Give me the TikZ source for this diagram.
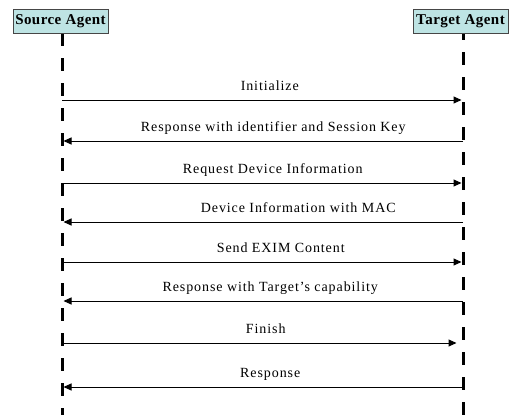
\documentclass[tikz,border=0pt]{standalone}
\usepackage{fontspec}
\setmainfont{Liberation Serif}
\usetikzlibrary{arrows.meta}
\definecolor{hdrfill}{RGB}{190,228,228}
\definecolor{hdrdraw}{RGB}{70,70,70}
\begin{document}
\begin{tikzpicture}[x=1pt,y=-1pt,
  hdr/.style={draw=hdrdraw, line width=1pt, fill=hdrfill, minimum width=95pt,
    minimum height=24pt, inner sep=0pt, font=\fontsize{15}{16}\selectfont\bfseries\addfontfeature{LetterSpace=3}},
  life/.style={line width=3pt, dash pattern=on 13pt off 12pt},
  msg/.style={line width=1pt, -{Triangle[length=8pt,width=7pt]}},
  lbl/.style={anchor=base, yshift=10pt, font=\fontsize{14}{16}\selectfont\addfontfeature{LetterSpace=6.5}}]
\useasboundingbox (0,0) rectangle (515,415);
\fill[white] (0,0) rectangle (515,415);
% lifelines
\coordinate (s0) at (62,33);
\coordinate (s9) at (62,415);
\coordinate (t0) at (463,33);
\coordinate (t9) at (463,415);
\draw[life] (s0) -- (s9);
\draw[life, dash phase=6pt] (t0) -- (t9);
% headers
\node[hdr] (src) at (60.5,21) {Source Agent};
\node[hdr] (tgt) at (460.5,21) {Target Agent};
% message end points
\foreach \n/\y in {1/100,2/141,3/183,4/222,5/262,6/301,7/343,8/387}{
  \coordinate (sa\n) at (62,\y);
  \coordinate (sb\n) at (63.5,\y);
  \coordinate (ta\n) at (463,\y);
  \coordinate (tb\n) at (461.5,\y);
}
\draw[msg] (sa1) -- node[lbl, xshift=8pt] {Initialize} (tb1);
\draw[msg] (ta2) -- node[lbl, xshift=10pt] {Response with identifier and Session Key} (sb2);
\draw[msg] (sa3) -- node[lbl, xshift=11pt] {Request Device Information} (tb3);
\draw[msg] (ta4) -- node[lbl, xshift=35pt] {Device Information with MAC} (sb4);
\draw[msg] (sa5) -- node[lbl, xshift=19pt] {Send EXIM Content} (tb5);
\draw[msg] (ta6) -- node[lbl, xshift=7pt] {Response with Target’s capability} (sb6);
\draw[msg, shorten >=5pt] (sa7) -- node[lbl, xshift=4pt] {Finish} (tb7);
\draw[msg] (ta8) -- node[lbl, xshift=7pt] {Response} (sb8);
\end{tikzpicture}
\end{document}
